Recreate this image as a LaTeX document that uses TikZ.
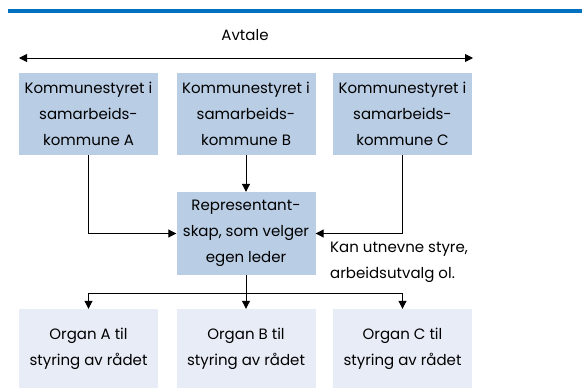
\documentclass[tikz,border=0pt]{standalone}
\usepackage{fontspec}
\setmainfont{Poppins}
\usetikzlibrary{arrows.meta}
\definecolor{topblue}{HTML}{0070C0}
\definecolor{boxdark}{HTML}{B9CDE5}
\definecolor{boxlight}{HTML}{E7ECF6}
\begin{document}
\begin{tikzpicture}[x=1pt,y=-1pt,
  every node/.style={font=\fontsize{15}{26}\selectfont, inner sep=0pt},
  darkbox/.style={fill=boxdark, minimum width=139pt, minimum height=82pt, align=center},
  lightbox/.style={fill=boxlight, minimum width=139pt, minimum height=79pt, align=center},
  tip/.style={Triangle[length=8pt,width=8pt]},
  conn/.style={line width=1pt, -{Triangle[length=8pt,width=8pt]}},
  plain/.style={line width=1pt}]
\useasboundingbox (0,0) rectangle (582,388);
\fill[topblue] (8,9) rectangle (582,13);
\node (avtale) at (245,35) {Avtale};
\coordinate (al) at (19,58);
\coordinate (ar) at (473,58);
\draw[line width=1pt, {Triangle[length=8pt,width=8pt]}-{Triangle[length=8pt,width=8pt]}] (al) -- (ar);
\node[darkbox] (ka) at (88.5,114) {Kommunestyret i\\samarbeids-\\kommune A};
\node[darkbox] (kb) at (246,114) {Kommunestyret i\\samarbeids-\\kommune B};
\node[darkbox] (kc) at (402.5,114) {Kommunestyret i\\samarbeids-\\kommune C};
\node[darkbox, minimum height=83pt] (rep) at (246,233.5) {Representant-\\skap, som velger\\egen leder};
\node[anchor=north west, align=left] (kan) at (330,242) {Kan utnevne styre,\\arbeidsutvalg ol.};
\node[lightbox] (oa) at (88.5,348.5) {Organ A til\\styring av rådet};
\node[lightbox] (ob) at (246,348.5) {Organ B til\\styring av rådet};
\node[lightbox] (oc) at (402.5,348.5) {Organ C til\\styring av rådet};
\draw[conn] (kb) -- (rep);
\draw[conn] (ka.south) |- (rep.west);
\draw[conn] (kc.south) |- (rep.east);
\coordinate (split) at (246,293);
\draw[plain] (rep.south) -- (split);
\draw[conn] (split) -| (oa.north);
\draw[conn] (split) -| (oc.north);
\draw[conn] (split) -- (ob.north);
\end{tikzpicture}
\end{document}
